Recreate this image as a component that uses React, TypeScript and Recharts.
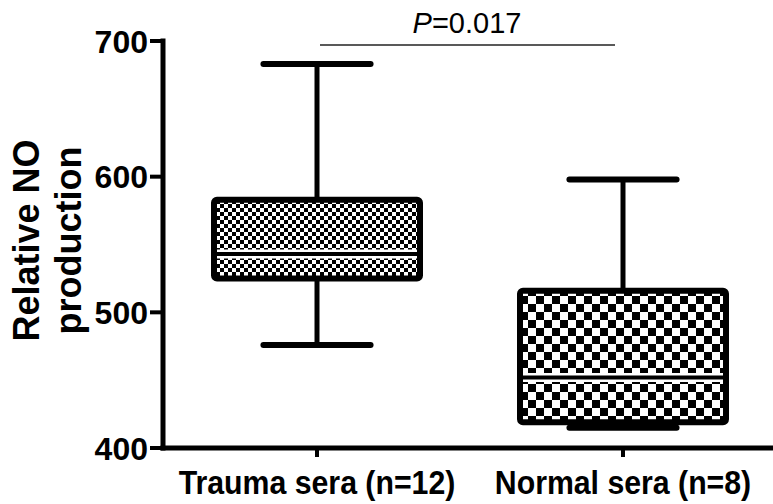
import React from 'react';
import { ComposedChart, Bar, XAxis, YAxis, ReferenceLine } from 'recharts';

const categories = ['Trauma sera (n=12)', 'Normal sera (n=8)'];
const whiskerLow = [476, 415];
const q1 = [525, 419];
const median = [543, 452];
const q3 = [583, 516];
const whiskerHigh = [683, 598];
const yTicks = [400, 500, 600, 700];
const yLabelLines = ['Relative NO', 'production'];
const pValueText = '0.017';

const data = categories.map((name, i) => ({
  name,
  range: [whiskerLow[i], whiskerHigh[i]],
  lo: whiskerLow[i],
  q1: q1[i],
  med: median[i],
  q3: q3[i],
  hi: whiskerHigh[i],
  idx: i,
}));

const FONT = '"Liberation Sans", Arial, sans-serif';

const BoxShape = (props: any) => {
  const { x, y, width, height, payload } = props;
  if (!payload) return null;
  const top = Math.min(y, y + height);
  const bottom = Math.max(y, y + height);
  const { lo, hi } = payload;
  const pix = (v: number) => top + ((hi - v) / (hi - lo)) * (bottom - top);
  const cx = x + width / 2;
  const capW = width * 0.52;
  const pid = `chk${payload.idx}`;
  const cell = payload.idx === 0 ? 4 : 8;
  const yq3 = pix(payload.q3);
  const yq1 = pix(payload.q1);
  const ym = pix(payload.med);
  return (
    <g>
      <defs>
        <pattern id={pid} patternUnits="userSpaceOnUse" width={cell * 2} height={cell * 2}>
          <rect x={0} y={0} width={cell * 2} height={cell * 2} fill="#fff" />
          <rect x={0} y={0} width={cell} height={cell} fill="#000" />
          <rect x={cell} y={cell} width={cell} height={cell} fill="#000" />
        </pattern>
      </defs>
      <line x1={cx} x2={cx} y1={pix(hi)} y2={yq3} stroke="#000" strokeWidth={5} />
      <line x1={cx} x2={cx} y1={yq1} y2={pix(lo)} stroke="#000" strokeWidth={5} />
      <line x1={cx - capW / 2} x2={cx + capW / 2} y1={pix(hi)} y2={pix(hi)} stroke="#000" strokeWidth={6} strokeLinecap="round" />
      <line x1={cx - capW / 2} x2={cx + capW / 2} y1={pix(lo)} y2={pix(lo)} stroke="#000" strokeWidth={6} strokeLinecap="round" />
      <rect x={x} y={yq3} width={width} height={yq1 - yq3} fill={`url(#${pid})`} stroke="#000" strokeWidth={6} rx={3} />
      <line x1={x + 3} x2={x + width - 3} y1={ym} y2={ym} stroke="#fff" strokeWidth={9} />
      <line x1={x + 3} x2={x + width - 3} y1={ym} y2={ym} stroke="#000" strokeWidth={4} />
    </g>
  );
};

const YTick = (props: any) => {
  const { x, y, payload } = props;
  return (
    <text x={x} y={y} textAnchor="end" dy="0.36em" fontSize={32} fontWeight="bold" fontFamily={FONT} fill="#000">
      {payload.value}
    </text>
  );
};

const XTick = (props: any) => {
  const { x, y, payload } = props;
  return (
    <g transform={`translate(${x},${y})`}>
      <text transform="scale(0.89,1)" textAnchor="middle" y={35} fontSize={34} fontWeight="bold" fontFamily={FONT} fill="#000">
        {payload.value}
      </text>
    </g>
  );
};

const YLabel = (props: any) => {
  const vb = props.viewBox || { x: 0, y: 41, width: 163, height: 407 };
  const cy = vb.y + vb.height / 2 - 4;
  return (
    <g transform={`translate(0,${cy}) rotate(-90)`}>
      <text textAnchor="middle" y={39} fontSize={36} fontWeight="bold" fontFamily={FONT} fill="#000">
        {yLabelLines[0]}
      </text>
      <text textAnchor="middle" y={81} fontSize={36} fontWeight="bold" fontFamily={FONT} fill="#000">
        {yLabelLines[1]}
      </text>
    </g>
  );
};

const PLabel = (props: any) => {
  const vb = props.viewBox;
  if (!vb) return null;
  const cx = vb.x + vb.width / 2 - 3;
  return (
    <text x={cx} y={vb.y - 12} textAnchor="middle" fontSize={29} fontFamily={FONT} fill="#000">
      <tspan fontStyle="italic">P</tspan>={pValueText}
    </text>
  );
};

const PLine = (props: any) => {
  const { x1, y1, x2, y2 } = props;
  if (x1 == null) return null;
  return <line x1={x1 + 3} y1={y1} x2={x2 - 8} y2={y2} stroke="#222" strokeWidth={1.5} />;
};

export default function App() {
  return (
    <div style={{ position: 'absolute', left: 0, top: 0, width: 773, height: 504, overflow: 'hidden', background: '#fff' }}>
      <ComposedChart width={776} height={504} data={data} margin={{ top: 41, right: 0, bottom: 0, left: 0 }}>
        <XAxis
          dataKey="name"
          height={56}
          padding={{ left: 1, right: 0 }}
          tick={<XTick />}
          tickSize={9}
          tickMargin={2}
          axisLine={{ stroke: '#000', strokeWidth: 5, strokeLinecap: 'square' }}
          tickLine={{ stroke: '#000', strokeWidth: 4 }}
          interval={0}
        />
        <YAxis
          width={163}
          domain={[400, 700]}
          ticks={yTicks}
          tick={<YTick />}
          tickSize={13}
          tickMargin={2}
          axisLine={{ stroke: '#000', strokeWidth: 5, strokeLinecap: 'square' }}
          tickLine={{ stroke: '#000', strokeWidth: 4 }}
          label={{ content: <YLabel /> }}
        />
        <ReferenceLine
          segment={[{ x: categories[0], y: 697 }, { x: categories[1], y: 697 }]}
          stroke="#222"
          strokeWidth={1.5}
          ifOverflow="visible"
          shape={<PLine />}
          label={<PLabel />}
        />
        <Bar dataKey="range" barSize={206} shape={<BoxShape />} isAnimationActive={false} />
      </ComposedChart>
    </div>
  );
}
